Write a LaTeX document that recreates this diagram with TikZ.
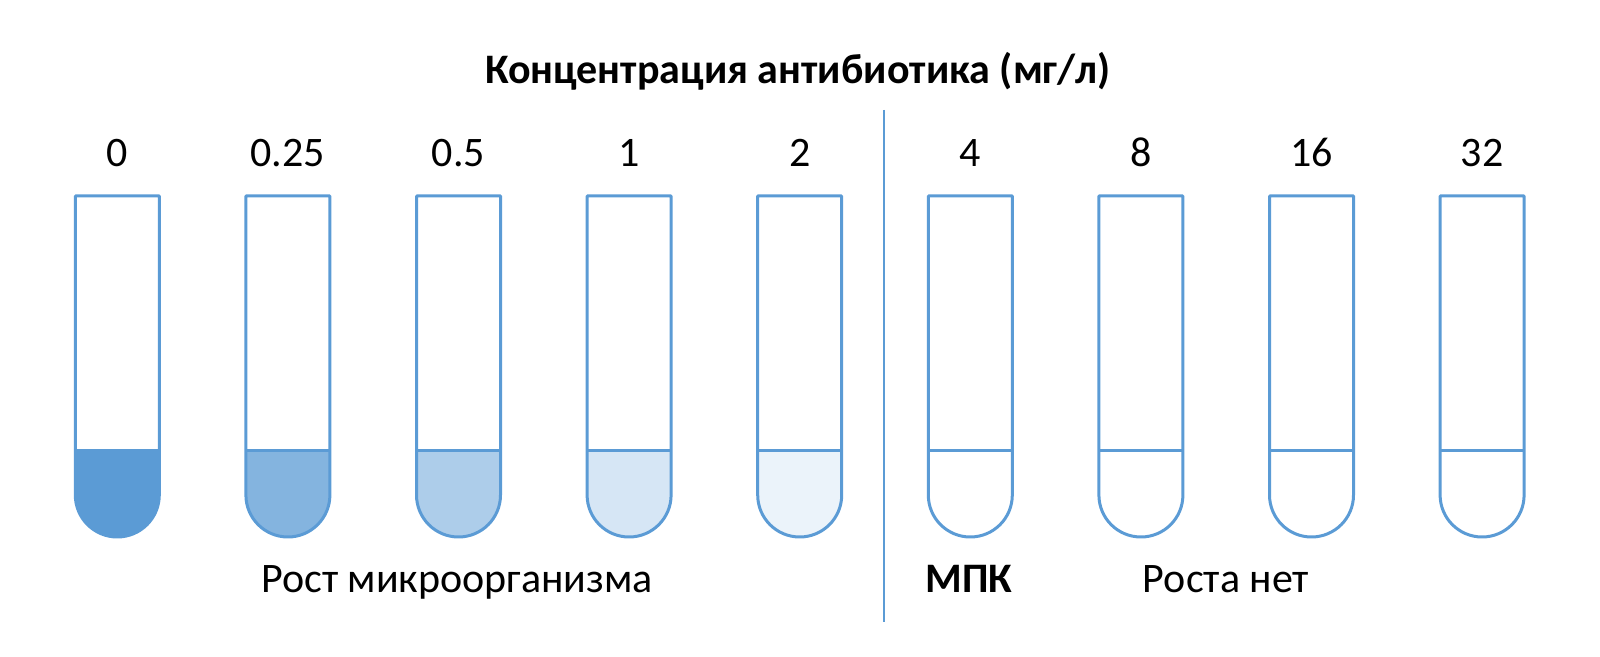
\documentclass[tikz,border=0pt]{standalone}
\usepackage{fontspec}
\setmainfont{Carlito}
\definecolor{tubeblue}{HTML}{5B9BD5}
\begin{document}
\begin{tikzpicture}[x=1pt,y=1pt,
  tubeline/.style={draw=tubeblue,line width=3pt,line join=round},
  numlabel/.style={anchor=base,font=\fontsize{42}{46}\selectfont,inner sep=0pt},
  titlelabel/.style={anchor=base,font=\fontsize{42}{46}\selectfont\bfseries,inner sep=0pt},
  bottomlabel/.style={anchor=base,font=\fontsize{42}{46}\selectfont,inner sep=0pt}]
\useasboundingbox (0,0) rectangle (1600,656);
\node[titlelabel] (title) at (798,572) {Концентрация антибиотика (мг/л)};
\foreach \i/\lab/\tint in {0/0/100,1/0.25/75,2/0.5/50,3/1/25,4/2/12,5/4/0,6/8/0,7/16/0,8/32/0}{
  \pgfmathsetmacro{\c}{117.3+170.6*\i}
  \node[numlabel] (n\i) at (\c,489) {\lab};
  \fill[tubeblue!\tint] (\c-42,205) -- (\c-42,161) arc (180:360:42) -- (\c+42,205) -- cycle;
  \draw[tubeline] (\c-42,460) -- (\c-42,161) arc (180:360:42) -- (\c+42,460) -- cycle;
  \draw[tubeline] (\c-42,205) -- (\c+42,205);
}
\coordinate (dtop) at (884,546);
\coordinate (dbot) at (884,34);
\draw[draw=tubeblue,line width=2.8pt] (dtop) -- (dbot);
\node[bottomlabel] (grow) at (457,64) {Рост микроорганизма};
\node[bottomlabel,font=\fontsize{42}{46}\selectfont\bfseries] (mic) at (969,64) {МПК};
\node[bottomlabel] (nogrow) at (1226,64) {Роста нет};
\end{tikzpicture}
\end{document}
